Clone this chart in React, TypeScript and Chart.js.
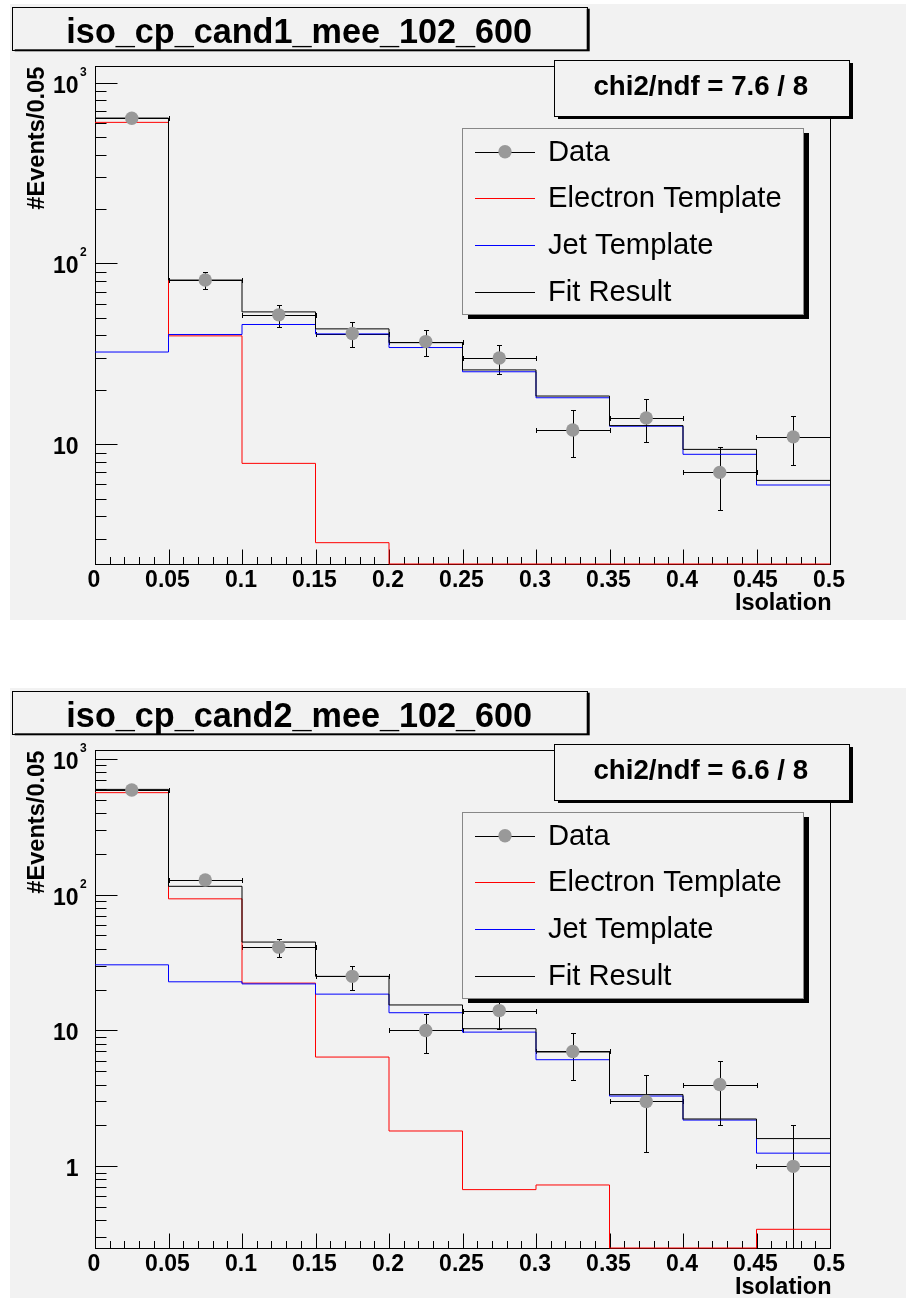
import React, { useEffect, useRef } from "react";
import { Chart, registerables } from "chart.js";

Chart.register(...registerables);

// ---------- shared axis data ----------
const binCenters = [0.025, 0.075, 0.125, 0.175, 0.225, 0.275, 0.325, 0.375, 0.425, 0.475];
const binEdges = [0, 0.05, 0.1, 0.15, 0.2, 0.25, 0.3, 0.35, 0.4, 0.45, 0.5];
const xTickLabels = ["0", "0.05", "0.1", "0.15", "0.2", "0.25", "0.3", "0.35", "0.4", "0.45", "0.5"];
const xMinorStep = 0.01;
const binHalfWidth = 0.025;
const xAxisTitle = "Isolation";
const yAxisTitle = "#Events/0.05";
const legendLabels = ["Data", "Electron Template", "Jet Template", "Fit Result"];

// ---------- panel 1 ----------
const title1 = "iso_cp_cand1_mee_102_600";
const chi2Label1 = "chi2/ndf = 7.6 / 8";
const data1 = [635, 81, 52, 41, 37, 30, 12, 14, 7, 11];
const electron1 = [603, 39.8, 7.85, 2.86, 2.1, 0.6, 0.5, 0.4, 0.5, 0.35];
const jet1 = [32.4, 40.5, 46, 40.8, 34.3, 25.2, 18.1, 12.6, 8.81, 5.96];
const fit1 = [637, 81, 54, 43.5, 36.5, 25.8, 18.5, 12.7, 9.38, 6.32];
const yRange1 = [2.18, 1236];
const yMajor1 = [10, 100, 1000];
const yMajorLabels1 = ["10", "10^2", "10^3"];

// ---------- panel 2 ----------
const title2 = "iso_cp_cand2_mee_102_600";
const chi2Label2 = "chi2/ndf = 6.6 / 8";
const data2 = [588, 128, 41, 25, 10, 14, 7, 3, 4, 1];
const electron2 = [562, 93, 22.3, 6.37, 1.82, 0.674, 0.729, 0.1, 0.1, 0.344];
const jet2 = [30.4, 22.8, 22.0, 18.5, 13.5, 9.72, 6.09, 3.29, 2.19, 1.25];
const fit2 = [594, 115, 44.7, 25, 15.4, 10.3, 6.94, 3.37, 2.23, 1.6];
const yRange2 = [0.2506, 1158];
const yMajor2 = [1, 10, 100, 1000];
const yMajorLabels2 = ["1", "10", "10^2", "10^3"];

// ---------- styles ----------
const BG = "#f2f2f2";
const MARKER = "#999999";
const FONT = '"Liberation Sans", Arial, Helvetica, sans-serif';

type PanelCfg = {
  title: string;
  chi2: string;
  data: number[];
  electron: number[];
  jet: number[];
  fit: number[];
  yRange: number[];
  yMajor: number[];
  yMajorLabels: string[];
};

const panels: PanelCfg[] = [
  { title: title1, chi2: chi2Label1, data: data1, electron: electron1, jet: jet1, fit: fit1, yRange: yRange1, yMajor: yMajor1, yMajorLabels: yMajorLabels1 },
  { title: title2, chi2: chi2Label2, data: data2, electron: electron2, jet: jet2, fit: fit2, yRange: yRange2, yMajor: yMajor2, yMajorLabels: yMajorLabels2 },
];

function stepPoints(vals: number[], yMin: number) {
  // point i at the left edge of bin i (last point closes the final bin); values below the
  // axis minimum are drawn along the axis, as ROOT does
  return binEdges.map((e, i) => ({ x: e, y: Math.max(vals[Math.min(i, vals.length - 1)], yMin) }));
}

function drawPave(ctx: CanvasRenderingContext2D, x1: number, y1: number, x2: number, y2: number, shadow: number, border: string) {
  ctx.save();
  ctx.fillStyle = "#000";
  ctx.fillRect(x1 + shadow + 2, y1 + shadow + 1, x2 - x1, y2 - y1);
  ctx.fillStyle = BG;
  ctx.fillRect(x1, y1, x2 - x1, y2 - y1);
  ctx.strokeStyle = border;
  ctx.lineWidth = 1;
  ctx.strokeRect(Math.round(x1) + 0.5, Math.round(y1) + 0.5, Math.round(x2 - x1), Math.round(y2 - y1));
  ctx.restore();
}

function makePlugin(cfg: PanelCfg) {
  return {
    id: "rootStyle",
    beforeDraw(chart: any) {
      const ctx = chart.ctx;
      ctx.save();
      ctx.fillStyle = BG;
      ctx.fillRect(0, 0, chart.width, chart.height);
      ctx.restore();
    },
    beforeDatasetsDraw(chart: any) {
      const ctx: CanvasRenderingContext2D = chart.ctx;
      const a = chart.chartArea;
      const xs = chart.scales.x;
      const ys = chart.scales.y;
      const [yMin, yMax] = cfg.yRange;
      const L = Math.round(a.left) + 0.5;
      const R = Math.round(a.right) + 0.5;
      const T = Math.round(a.top) + 0.5;
      const B = Math.round(a.bottom) + 0.5;
      ctx.save();
      ctx.strokeStyle = "#000";
      ctx.lineWidth = 1;
      ctx.strokeRect(L, T, R - L, B - T);

      // y ticks
      ctx.beginPath();
      cfg.yMajor.forEach((v) => {
        const py = Math.round(ys.getPixelForValue(v)) + 0.5;
        ctx.moveTo(L, py);
        ctx.lineTo(L + 22, py);
      });
      const dLo = Math.floor(Math.log10(yMin));
      const dHi = Math.ceil(Math.log10(yMax));
      for (let d = dLo; d <= dHi; d++) {
        for (let k = 2; k <= 9; k++) {
          const v = k * Math.pow(10, d);
          if (v < yMin || v > yMax) continue;
          const py = Math.round(ys.getPixelForValue(v)) + 0.5;
          ctx.moveTo(L, py);
          ctx.lineTo(L + 11, py);
        }
      }
      // x ticks
      binEdges.forEach((v) => {
        const px = Math.round(xs.getPixelForValue(v)) + 0.5;
        ctx.moveTo(px, B);
        ctx.lineTo(px, B - 15);
      });
      for (let i = 0; i <= 50; i++) {
        if (i % 5 === 0) continue;
        const px = Math.round(xs.getPixelForValue(i * xMinorStep)) + 0.5;
        ctx.moveTo(px, B);
        ctx.lineTo(px, B - 7.5);
      }
      ctx.stroke();

      // y labels
      ctx.fillStyle = "#000";
      cfg.yMajor.forEach((v, i) => {
        const py = ys.getPixelForValue(v);
        const [base, exp] = cfg.yMajorLabels[i].split("^");
        ctx.font = `bold 23px ${FONT}`;
        ctx.textAlign = "right";
        ctx.textBaseline = "alphabetic";
        const xr = a.left - 16.5;
        ctx.fillText(base, xr, py + 10);
        if (exp) {
          ctx.font = `bold 12px ${FONT}`;
          ctx.textAlign = "left";
          ctx.fillText(exp, xr + 1.5, py - 7);
        }
      });
      // x labels
      ctx.font = `bold 23px ${FONT}`;
      ctx.textAlign = "center";
      ctx.textBaseline = "alphabetic";
      binEdges.forEach((v, i) => {
        ctx.fillText(xTickLabels[i], xs.getPixelForValue(v) - 1, a.bottom + 23);
      });
      ctx.font = `bold 23.5px ${FONT}`;
      ctx.textAlign = "right";
      ctx.fillText(xAxisTitle, a.right + 1.5, a.bottom + 46);
      // y title
      ctx.save();
      ctx.translate(a.left - 51.5, a.top + 0.7);
      ctx.rotate(-Math.PI / 2);
      ctx.font = `bold 23.6px ${FONT}`;
      ctx.textAlign = "right";
      ctx.textBaseline = "alphabetic";
      ctx.fillText(yAxisTitle, 0, 0);
      ctx.restore();

      // error bars for data
      ctx.strokeStyle = "#000";
      ctx.lineWidth = 1;
      ctx.beginPath();
      cfg.data.forEach((v, i) => {
        const cx = Math.round(xs.getPixelForValue(binCenters[i])) + 0.5;
        const cy = Math.round(ys.getPixelForValue(v)) + 0.5;
        const xl = Math.round(xs.getPixelForValue(binCenters[i] - binHalfWidth)) + 0.5;
        const xr = Math.round(xs.getPixelForValue(binCenters[i] + binHalfWidth)) + 0.5;
        ctx.moveTo(xl, cy);
        ctx.lineTo(xr, cy);
        ctx.moveTo(xl, cy - 2.5);
        ctx.lineTo(xl, cy + 2.5);
        if (xr < R - 1) {
          ctx.moveTo(xr, cy - 2.5);
          ctx.lineTo(xr, cy + 2.5);
        }
        const err = Math.sqrt(v);
        const hi = v + err;
        const lo = v - err;
        const yHi = Math.round(ys.getPixelForValue(Math.min(hi, yMax))) + 0.5;
        const loClamped = lo <= yMin;
        const yLo = Math.round(ys.getPixelForValue(loClamped ? yMin : lo)) + 0.5;
        ctx.moveTo(cx, yHi);
        ctx.lineTo(cx, yLo);
        ctx.moveTo(cx - 2.5, yHi);
        ctx.lineTo(cx + 2.5, yHi);
        if (!loClamped) {
          ctx.moveTo(cx - 2.5, yLo);
          ctx.lineTo(cx + 2.5, yLo);
        }
      });
      ctx.stroke();
      ctx.restore();
    },
    afterDraw(chart: any) {
      const ctx: CanvasRenderingContext2D = chart.ctx;
      ctx.save();
      // title
      drawPave(ctx, 1.7, 2.7, 576.7, 45.3, 1, "#000");
      ctx.fillStyle = "#000";
      ctx.font = `bold 34.2px ${FONT}`;
      ctx.textAlign = "center";
      ctx.textBaseline = "alphabetic";
      ctx.fillText(cfg.title, 289.2, 38.7);
      // chi2 box
      drawPave(ctx, 544, 56, 839, 112, 2, "#000");
      ctx.fillStyle = "#000";
      ctx.font = `bold 27.7px ${FONT}`;
      ctx.fillText(cfg.chi2, 690.8, 91);
      // legend
      const lx1 = 452, ly1 = 124, lx2 = 793, ly2 = 310;
      drawPave(ctx, lx1, ly1, lx2, ly2, 4, "#888");
      const colors = ["#000", "#ff0000", "#0000ff", "#000"];
      legendLabels.forEach((lab, i) => {
        const cy = ly1 + 23.7 + i * 46.67;
        const yy = Math.round(cy) + 0.5;
        ctx.strokeStyle = colors[i];
        ctx.lineWidth = 1;
        ctx.beginPath();
        ctx.moveTo(lx1 + 13, yy);
        ctx.lineTo(lx1 + 73, yy);
        ctx.stroke();
        if (i === 0) {
          ctx.fillStyle = MARKER;
          ctx.beginPath();
          ctx.arc(lx1 + 43, cy, 6.7, 0, Math.PI * 2);
          ctx.fill();
        }
        ctx.fillStyle = "#000";
        ctx.font = `29.2px ${FONT}`;
        ctx.textAlign = "left";
        ctx.fillText(lab, lx1 + 86, cy + 9);
      });
      ctx.restore();
    },
  };
}

function Panel({ cfg, top }: { cfg: PanelCfg; top: number }) {
  const ref = useRef<HTMLCanvasElement | null>(null);
  useEffect(() => {
    if (!ref.current) return;
    const [yMin, yMax] = cfg.yRange;
    const chart = new Chart(ref.current, {
      type: "line",
      data: {
        datasets: [
          {
            type: "scatter",
            label: legendLabels[0],
            data: binCenters.map((x, i) => ({ x, y: cfg.data[i] })),
            pointRadius: 6.7,
            pointBackgroundColor: MARKER,
            pointBorderWidth: 0,
            showLine: false,
            order: 0,
            clip: false,
          } as any,
          {
            type: "line",
            label: legendLabels[3],
            data: stepPoints(cfg.fit, yMin),
            borderColor: "#000000",
            borderWidth: 1,
            pointRadius: 0,
            stepped: "before",
            fill: false,
            order: 1,
            clip: false,
          } as any,
          {
            type: "line",
            label: legendLabels[2],
            data: stepPoints(cfg.jet, yMin),
            borderColor: "#0000ff",
            borderWidth: 1,
            pointRadius: 0,
            stepped: "before",
            fill: false,
            order: 2,
            clip: false,
          } as any,
          {
            type: "line",
            label: legendLabels[1],
            data: stepPoints(cfg.electron, yMin),
            borderColor: "#ff0000",
            borderWidth: 1,
            pointRadius: 0,
            stepped: "before",
            fill: false,
            order: 3,
            clip: false,
          } as any,
        ],
      },
      options: {
        responsive: false,
        animation: false,
        devicePixelRatio: 1,
        events: [],
        layout: { padding: { left: 85, top: 62, right: 76, bottom: 56 } },
        scales: {
          x: { type: "linear", min: 0, max: 0.5, display: false },
          y: { type: "logarithmic", min: yMin, max: yMax, display: false },
        },
        plugins: {
          legend: { display: false },
          tooltip: { enabled: false },
          title: { display: false },
        },
      } as any,
      plugins: [makePlugin(cfg) as any],
    });
    return () => chart.destroy();
  }, [cfg]);
  return (
    <canvas
      ref={ref}
      width={896}
      height={616}
      style={{ position: "absolute", left: 10, top, width: 896, height: 616, display: "block" }}
    />
  );
}

export default function App() {
  return (
    <div
      style={{
        position: "fixed",
        left: 0,
        top: 0,
        width: 906,
        height: 1298,
        overflow: "hidden",
        background: "#ffffff",
      }}
    >
      <Panel cfg={panels[0]} top={4} />
      <Panel cfg={panels[1]} top={688} />
    </div>
  );
}
